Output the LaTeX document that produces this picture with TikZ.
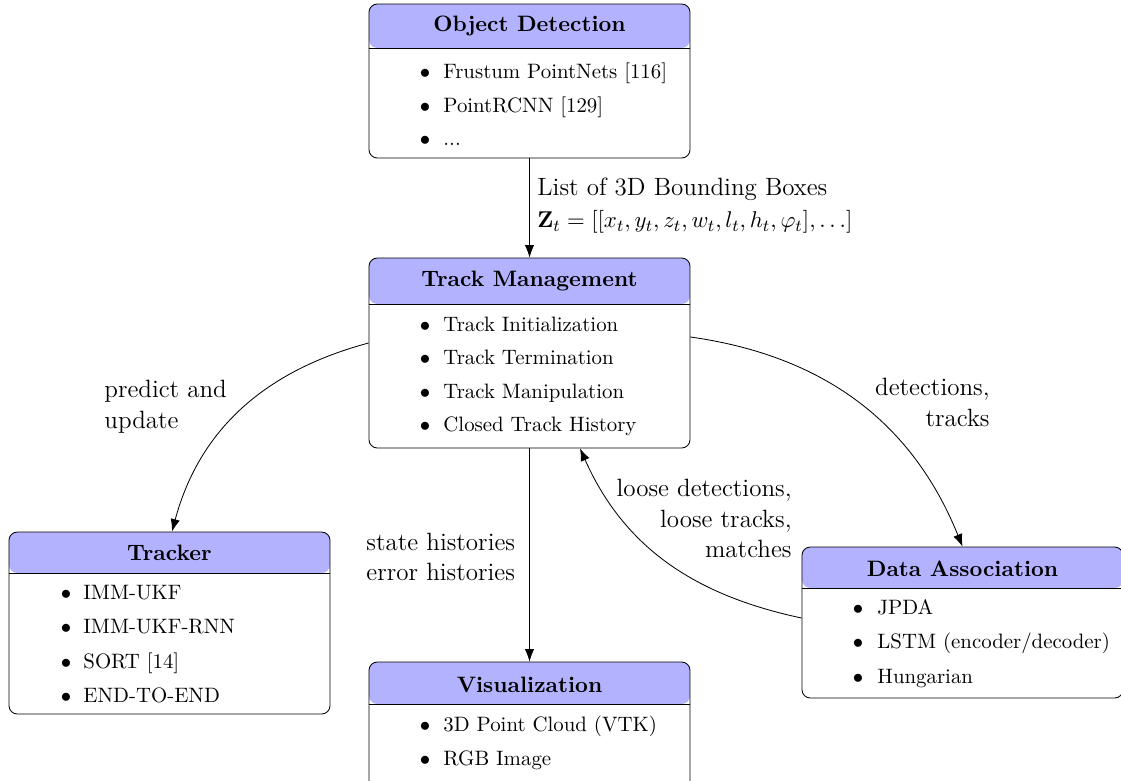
\documentclass[tikz,border=0pt]{standalone}
\usetikzlibrary{calc,arrows.meta}
\definecolor{headfill}{RGB}{178,178,255}
\tikzset{
  card/.style 2 args={draw, rounded corners=4pt, minimum width=154.1pt,
    minimum height=#1*0.48pt, inner sep=0pt,
    path picture={
      \fill[headfill] (path picture bounding box.north west) rectangle
        ([yshift=-#2*0.48pt]path picture bounding box.north east);
      \draw ([yshift=-#2*0.48pt]path picture bounding box.north west) --
        ([yshift=-#2*0.48pt]path picture bounding box.north east);}},
  ttl/.style={inner sep=0pt, font=\fontsize{10.7}{13}\selectfont\bfseries},
  bul/.style={anchor=base, inner sep=0pt, font=\fontsize{10}{12}\selectfont},
  itm/.style={anchor=base west, inner sep=0pt, font=\fontsize{10}{12}\selectfont},
  lbl/.style={inner sep=0pt, font=\fontsize{12}{14.8}\selectfont},
  conn/.style={-{Latex[length=6pt,width=4.5pt]}},
}
\begin{document}
\begin{tikzpicture}[x=0.48pt,y=0.48pt]
\useasboundingbox (0,0) rectangle (1121,-780);
\clip (0,0) rectangle (1121,-780);

% boxes
\node[card={154}{44}] (od) at (529.5,-81) {};
\node[card={190}{46}] (tm) at (529.5,-353) {};
\node[card={182}{41}] (tr) at (169.5,-623) {};
\node[card={140}{42}] (vi) at (529.5,-732) {};
\node[card={151}{41}] (da) at (962.5,-622.5) {};

% titles
\node[ttl] (od-t) at (529.5,-26) {Object Detection};
\node[ttl] (tm-t) at (529.5,-280.5) {Track Management};
\node[ttl] (tr-t) at (169.5,-552.5) {Tracker};
\node[ttl] (vi-t) at (529.5,-684.5) {Visualization};
\node[ttl] (da-t) at (962.5,-568.5) {Data Association};

% item lists
\node[bul] (od-b1) at (425,-78) {$\bullet$};
\node[itm] (od-i1) at (443,-78) {Frustum PointNets [116]};
\node[bul] (od-b2) at (425,-112) {$\bullet$};
\node[itm] (od-i2) at (443,-112) {PointRCNN [129]};
\node[bul] (od-b3) at (425,-145) {$\bullet$};
\node[itm] (od-i3) at (443,-145) {...};

\foreach \txt [count=\k] in {Track Initialization, Track Termination,
    Track Manipulation, Closed Track History} {
  \node[bul] (tm-b\k) at (425,{-331-33.6*(\k-1)}) {$\bullet$};
  \node[itm] (tm-i\k) at (443,{-331-33.6*(\k-1)}) {\txt};
}

\foreach \txt [count=\k] in {IMM-UKF, IMM-UKF-RNN, SORT [14], END-TO-END} {
  \node[bul] (tr-b\k) at (66,{-599.5-34.3*(\k-1)}) {$\bullet$};
  \node[itm] (tr-i\k) at (83,{-599.5-34.3*(\k-1)}) {\txt};
}

\foreach \txt [count=\k] in {3D Point Cloud (VTK), RGB Image} {
  \node[bul] (vi-b\k) at (425,{-731-34*(\k-1)}) {$\bullet$};
  \node[itm] (vi-i\k) at (443,{-731-34*(\k-1)}) {\txt};
}

\foreach \txt [count=\k] in {JPDA, LSTM (encoder/decoder), Hungarian} {
  \node[bul] (da-b\k) at (858,{-614-34.5*(\k-1)}) {$\bullet$};
  \node[itm] (da-i\k) at (877,{-614-34.5*(\k-1)}) {\txt};
}

% connectors
\draw[conn] (od.south) -- (tm.north);
\draw[conn] ($(tm.west)+(0,10)$) to[out=195,in=75] ($(tr.north)+(2.5,0)$);
\draw[conn] ($(tm.east)+(0,16)$) to[out=-8,in=112] (da.north);
\draw[conn] ($(da.west)+(0,4.5)$) to[out=168,in=-66] ($(tm.south)+(50.5,0)$);
\draw[conn] (tm.south) -- (vi.north);

% connector labels
\node[lbl, anchor=west, align=left] (l-bb) at (537,-206)
  {List of 3D Bounding Boxes\\[0.6pt]
   {\fontsize{11.45}{14}\selectfont
    $\mathbf{Z}_t = [[x_t, y_t, z_t, w_t, l_t, h_t, \varphi_t], \dots]$}};
\node[lbl, anchor=west, align=left] (l-pu) at (104,-407) {predict and\\update};
\node[lbl, anchor=east, align=right] (l-dt) at (990,-402.5) {detections,\\tracks};
\node[lbl, anchor=east, align=right] (l-lo) at (792,-518.5)
  {loose detections,\\loose tracks,\\matches};
\node[lbl, anchor=west, align=left] (l-sh) at (366,-557)
  {state histories\\error histories};
\end{tikzpicture}
\end{document}
